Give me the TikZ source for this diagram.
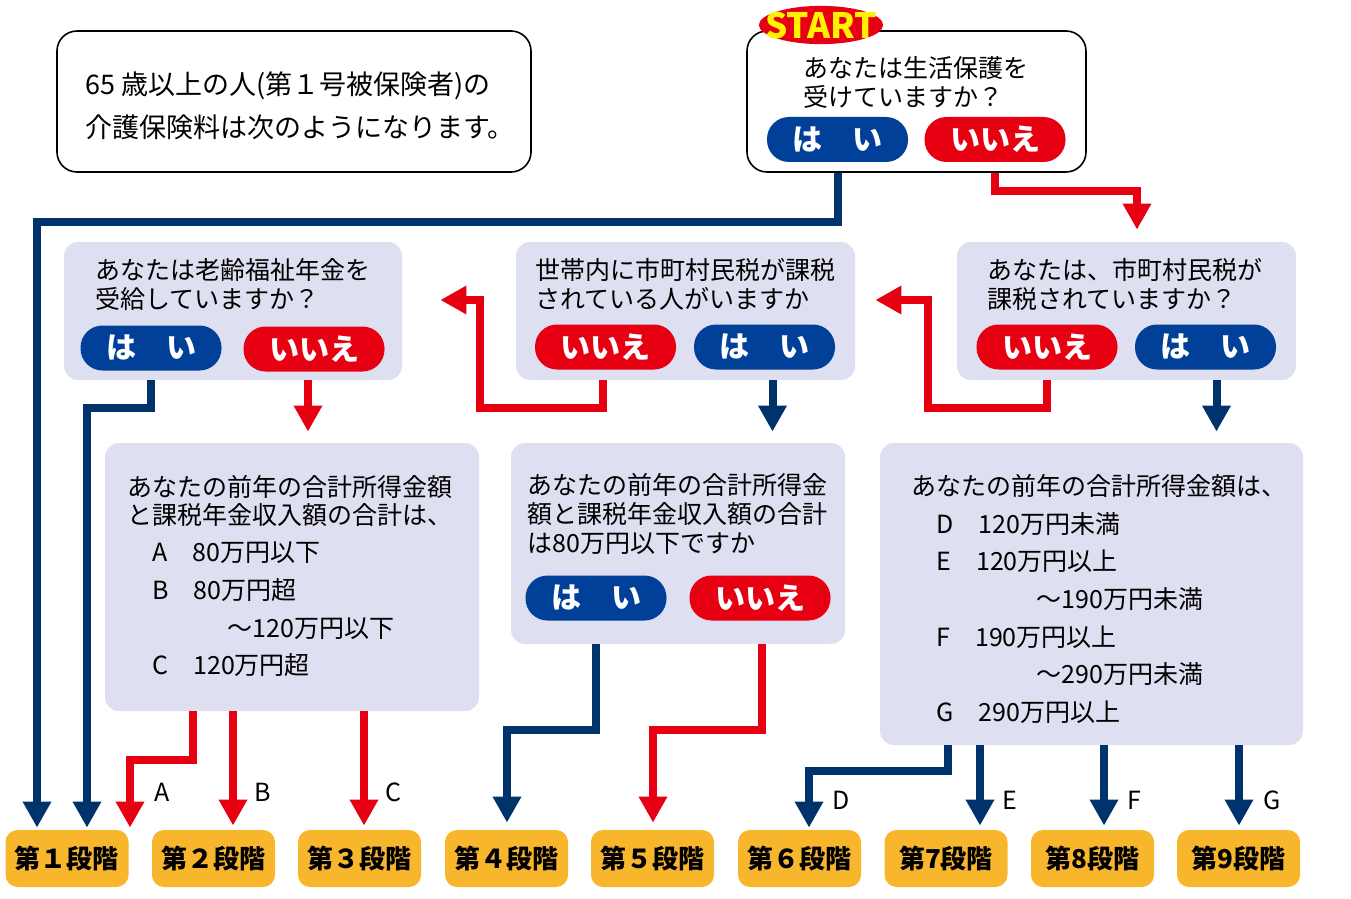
\documentclass[tikz,border=0pt]{standalone}
\usepackage{fontspec}
\setmainfont{Noto Sans CJK JP}
\usetikzlibrary{arrows.meta, calc, shapes.geometric}

\definecolor{navyline}{HTML}{00336B}
\definecolor{yesblue}{HTML}{004098}
\definecolor{nored}{HTML}{E60012}
\definecolor{lavender}{HTML}{DEDFF0}
\definecolor{stageorange}{HTML}{F8B62D}
\definecolor{startyellow}{HTML}{FFF100}

\begin{document}
\begin{tikzpicture}[x = 0.5pt, y = -0.5pt, > = {Triangle[width = 13.5pt, length = 13pt]},
	wbox/.style = {draw, line width = 0.8pt, fill = white, rounded corners = 10pt, inner sep = 0pt},
	qbox/.style = {fill = lavender, rounded corners = 7pt, inner sep = 0pt},
	yesbtn/.style = {fill = yesblue, text = white, rounded corners = 11pt, minimum width = 70.5pt, minimum height = 22.5pt, inner sep = 0pt, font = \fontsize{15pt}{15pt}\selectfont\bfseries},
	nobtn/.style = {yesbtn, fill = nored},
	qtext/.style = {anchor = west, align = left, inner sep = 0pt, font = \fontsize{12.5pt}{14.5pt}\selectfont},
	stage/.style = {fill = stageorange, rounded corners = 6pt, minimum width = 61.5pt, minimum height = 28.5pt, inner sep = 0pt, font = \fontsize{13pt}{13pt}\selectfont\bfseries},
	lab/.style = {inner sep = 0pt, font = \fontsize{12.5pt}{12.5pt}\selectfont},
	yesline/.style = {->, draw = navyline, line width = 4pt, line join = miter},
	noline/.style = {yesline, draw = nored}]

	\useasboundingbox (0, 0) rectangle (1351, 899);

	% Heading and first question

	\node [wbox, minimum width = 237pt, minimum height = 70.5pt] (intro) at (294, 101.5) {};
	\node [qtext, font = \fontsize{13.5pt}{21.5pt}\selectfont] (introtext) at (85, 105.5) {65 歳以上の人(第１号被保険者)の\\介護保険料は次のようになります。};

	\node [wbox, minimum width = 169.5pt, minimum height = 70.5pt] (qs) at (916.5, 101.5) {};
	\node [qtext] (qstext) at (803, 82) {あなたは生活保護を\\受けていますか？};
	\node [yesbtn] (qsyes) at (837.5, 139.5) {は　い};
	\node [nobtn] (qsno) at (995, 139.5) {いいえ};
	\node [ellipse, fill = nored, inner xsep = -6pt, inner ysep = 0pt, text = startyellow, font = \fontsize{17.5pt}{17.5pt}\selectfont\bfseries] (start) at (821, 25) {START};

	% Questions on the second row

	\node [qbox, minimum width = 169pt, minimum height = 69pt] (q1) at (233, 311) {};
	\node [qtext] (q1text) at (95, 284.5) {あなたは老齢福祉年金を\\受給していますか？};
	\node [yesbtn] (q1yes) at (151, 348) {は　い};
	\node [nobtn] (q1no) at (314, 349) {いいえ};

	\node [qbox, minimum width = 169.5pt, minimum height = 69pt] (q2) at (685.5, 311) {};
	\node [qtext] (q2text) at (535, 284.5) {世帯内に市町村民税が課税\\されている人がいますか};
	\node [nobtn] (q2no) at (605.5, 347) {いいえ};
	\node [yesbtn] (q2yes) at (764.5, 347) {は　い};

	\node [qbox, minimum width = 169.5pt, minimum height = 69pt] (q3) at (1126.5, 311) {};
	\node [qtext] (q3text) at (987, 284.5) {あなたは、市町村民税が\\課税されていますか？};
	\node [nobtn] (q3no) at (1047, 347) {いいえ};
	\node [yesbtn] (q3yes) at (1205.5, 347) {は　い};

	% Income boxes

	\node [qbox, minimum width = 187pt, minimum height = 134pt] (b1) at (292, 577) {};
	\node [qtext, font = \fontsize{12.5pt}{14pt}\selectfont] (b1text) at (127, 575.5) {あなたの前年の合計所得金額\\と課税年金収入額の合計は、\\[4.5pt]　A　80万円以下\\[5pt]　B　80万円超\\[5pt]　　　　～120万円以下\\[4.5pt]　C　120万円超};

	\node [qbox, minimum width = 167pt, minimum height = 100.5pt] (b2) at (678, 543.5) {};
	\node [qtext] (b2text) at (527, 514) {あなたの前年の合計所得金\\額と課税年金収入額の合計\\は80万円以下ですか};
	\node [yesbtn] (b2yes) at (596, 598) {は　い};
	\node [nobtn] (b2no) at (760, 598) {いいえ};

	\node [qbox, minimum width = 211.5pt, minimum height = 151pt] (b3) at (1091.5, 594) {};
	\node [qtext, font = \fontsize{12.5pt}{18.85pt}\selectfont] (b3text) at (911, 599) {あなたの前年の合計所得金額は、\\　D　120万円未満\\　E　120万円以上\\　　　　　～190万円未満\\　F　190万円以上\\　　　　　～290万円未満\\　G　290万円以上};

	% Stages

	\foreach \i/\x/\dg in {1/67/１, 2/213.5/２, 3/359.5/３, 4/506.5/４, 5/652.5/５, 6/799.5/６, 7/946/7, 8/1092.5/8, 9/1238.5/9}
		\node [stage] (s\i) at (\x, 858.5) {第\dg{}段階};

	% Connectors

	\draw [yesline] (qsyes |- qs.south) -- ++(0, 49) -| ($(s1.north) + (-30, -2)$);
	\draw [noline] (qsno |- qs.south) -- ++(0, 18) -| ($(q3.north) + (10.5, -12)$);

	\draw [noline] (q3no |- q3.south) -- ++(0, 28) -| ($(q3.west) + (-29, -11)$) -- ($(q2.east) + (20, -11)$);
	\draw [yesline] ($(q3yes |- q3.south) + (11, 0)$) -- ($(q3yes |- b3.north) + (11, -11)$);

	\draw [noline] ($(q2no |- q2.south) + (-3, 0)$) -- ++(0, 28) -| ($(q2.west) + (-36, -11)$) -- ($(q1.east) + (38, -11)$);
	\draw [yesline] ($(q2yes |- q2.south) + (8, 0)$) -- ($(q2yes |- b2.north) + (8, -11)$);

	\draw [yesline] (q1yes |- q1.south) -- ++(0, 28) -| ($(s1.north) + (20, -2)$);
	\draw [noline] ($(q1no |- q1.south) + (-6, 0)$) -- ($(q1no |- b1.north) + (-6, -11)$);

	\draw [noline] ($(b1.south) + (-99, 0)$) -- ++(0, 49) -| ($(s1.north) + (63, -2)$);
	\draw [noline] ($(b1.south) + (-59, 0)$) -- ($(s2.north) + (19.5, -4)$);
	\draw [noline] ($(b1.south) + (72, 0)$) -- ($(s3.north) + (4.5, -4)$);

	\draw [yesline] (b2yes |- b2.south) -- ++(0, 86) -| ($(s4.north) + (0.5, -7)$);
	\draw [noline] ($(b2no |- b2.south) + (2, 0)$) -- ++(0, 86) -| ($(s5.north) + (0.5, -7)$);

	\draw [yesline] ($(b3.south) + (-143.5, 0)$) -- ++(0, 26) -| ($(s6.north) + (9.5, -2)$);
	\draw [yesline] ($(b3.south) + (-111.5, 0)$) -- ($(s7.north) + (34, -4)$);
	\draw [yesline] ($(b3.south) + (12.5, 0)$) -- ($(s8.north) + (11.5, -4)$);
	\draw [yesline] ($(b3.south) + (147.5, 0)$) -- ($(s9.north) + (0.5, -4)$);

	% Branch letters

	\node [lab] (la) at (162, 792) {A};
	\node [lab] (lb) at (263, 792) {B};
	\node [lab] (lc) at (393, 792) {C};
	\node [lab] (ld) at (841, 800) {D};
	\node [lab] (le) at (1010, 800) {E};
	\node [lab] (lf) at (1134, 800) {F};
	\node [lab] (lg) at (1272, 800) {G};

\end{tikzpicture}
\end{document}
